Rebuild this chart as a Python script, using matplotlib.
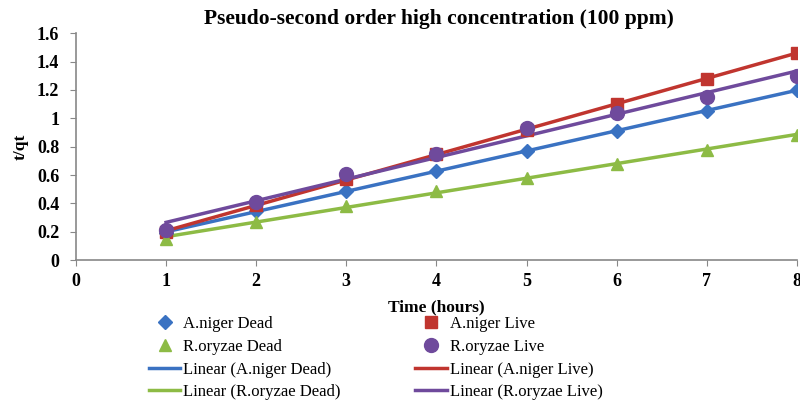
import numpy as np
import matplotlib
matplotlib.use("Agg")
import matplotlib.pyplot as plt

plt.rcParams['font.family'] = ['Liberation Serif', 'DejaVu Serif']

time = [1, 2, 3, 4, 5, 6, 7, 8]
aniger_dead = [0.19, 0.35, 0.49, 0.63, 0.77, 0.91, 1.05, 1.20]
aniger_live = [0.20, 0.39, 0.57, 0.75, 0.92, 1.10, 1.28, 1.46]
roryzae_dead = [0.15, 0.27, 0.38, 0.49, 0.58, 0.68, 0.78, 0.88]
roryzae_live = [0.21, 0.41, 0.61, 0.75, 0.93, 1.04, 1.15, 1.30]

xticks = [0, 1, 2, 3, 4, 5, 6, 7, 8]
yticks = [0, 0.2, 0.4, 0.6, 0.8, 1.0, 1.2, 1.4, 1.6]
ylabels = ['0', '0.2', '0.4', '0.6', '0.8', '1', '1.2', '1.4', '1.6']

series = [
    ("A.niger Dead", aniger_dead, '#3A72C2', 'D', 7),
    ("A.niger Live", aniger_live, '#C0352F', 's', 8),
    ("R.oryzae Dead", roryzae_dead, '#8DBB45', '^', 9),
    ("R.oryzae Live", roryzae_live, '#6F4A9C', 'o', 10),
]

fig = plt.figure(figsize=(8, 4.15), dpi=100)
ax = fig.add_axes([0.095, 0.373, 0.901, 0.547])

x = np.array(time, dtype=float)
handles = {}
for name, y, c, m, ms in series:
    h1, = ax.plot(x, y, linestyle='none', marker=m, color=c, markersize=ms, zorder=3)
    k, b = np.polyfit(x, np.array(y), 1)
    h2, = ax.plot(x, k * x + b, color=c, linewidth=2.5, zorder=2)
    handles[name] = (h1, h2)

ax.set_xlim(0, 8)
ax.set_ylim(0, 1.6)
ax.set_xticks(xticks)
ax.set_yticks(yticks)
ax.set_yticklabels(ylabels)
for s in ['top', 'right']:
    ax.spines[s].set_visible(False)
for s in ['left', 'bottom']:
    ax.spines[s].set_color('#888888')
    ax.spines[s].set_linewidth(1.2)
ax.tick_params(axis='both', colors='#888888', labelcolor='black', labelsize=13, length=4)
ax.tick_params(axis='y', pad=8)
ax.tick_params(axis='x', pad=5)
for lab in ax.get_xticklabels() + ax.get_yticklabels():
    lab.set_fontweight('bold')
ax.set_xlabel('Time (hours)', fontsize=12.5, fontweight='bold', labelpad=7)
ax.set_ylabel('t/qt', fontsize=12.5, fontweight='bold', labelpad=6)
fig.text(0.549, 0.955, 'Pseudo-second order high concentration (100 ppm)',
         ha='center', va='center', fontsize=15.5, fontweight='bold')

order = [
    (handles["A.niger Dead"][0], "A.niger Dead"),
    (handles["R.oryzae Dead"][0], "R.oryzae Dead"),
    (handles["A.niger Dead"][1], "Linear (A.niger Dead)"),
    (handles["R.oryzae Dead"][1], "Linear (R.oryzae Dead)"),
    (handles["A.niger Live"][0], "A.niger Live"),
    (handles["R.oryzae Live"][0], "R.oryzae Live"),
    (handles["A.niger Live"][1], "Linear (A.niger Live)"),
    (handles["R.oryzae Live"][1], "Linear (R.oryzae Live)"),
]
leg = fig.legend([h for h, _ in order], [l for _, l in order], ncol=2,
                 loc='upper left', bbox_to_anchor=(0.186, 0.238),
                 frameon=False, fontsize=12, handlelength=1.9,
                 handletextpad=0.15, columnspacing=4.5, labelspacing=0.4,
                 borderaxespad=0, borderpad=0)

fig.savefig('out.png', dpi=100)
